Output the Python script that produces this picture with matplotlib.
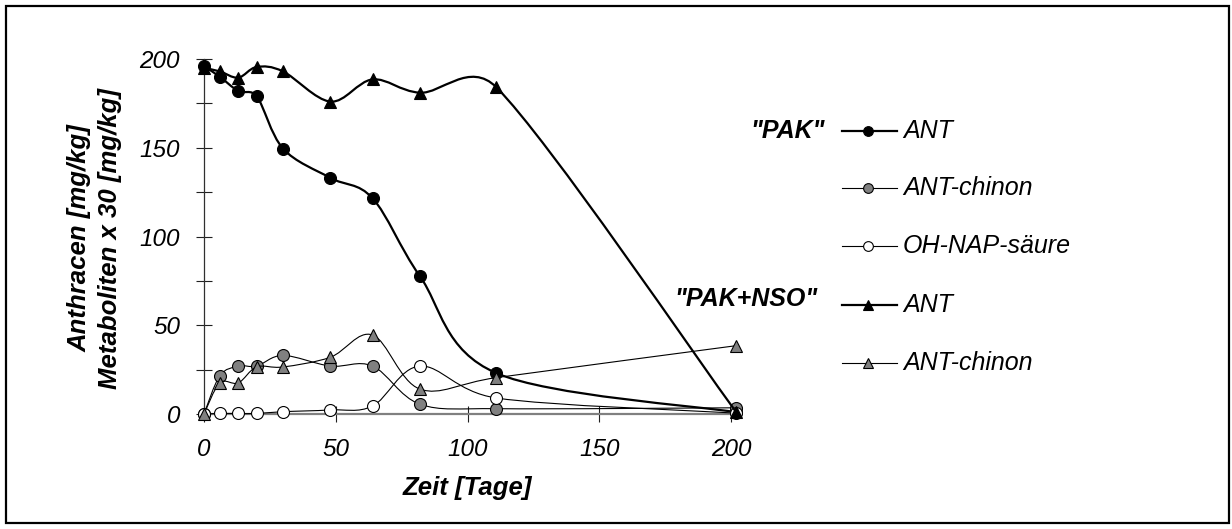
import numpy as np
import matplotlib
matplotlib.use("Agg")
import matplotlib.pyplot as plt
from matplotlib.path import Path
from matplotlib.patches import PathPatch, Rectangle
from matplotlib.lines import Line2D

plt.rcParams["font.family"] = ["Liberation Sans", "DejaVu Sans"]

# days of sampling
tage = [0, 6, 13, 20, 30, 48, 64, 82, 111, 202]

# "PAK"
pak_ant = [196, 190, 182, 179, 149.5, 133, 121.5, 77.5, 23, 1]
pak_chinon = [0, 21.5, 27, 27, 33, 27, 27, 5.5, 3, 3.5]
pak_ohnap = [0, 0.3, 0.3, 0.3, 1.3, 2.3, 4.5, 27, 9, 0.5]
# "PAK+NSO"
nso_ant = [195, 193, 189.5, 195.5, 193, 176, 188.5, 181, 184, 1]
nso_chinon = [0, 17.5, 17.5, 26.5, 26.5, 32, 44.5, 14, 20.5, 38.5]

gruppen = ['"PAK"', '"PAK+NSO"']
labels = ["ANT", "ANT-chinon", "OH-NAP-säure", "ANT", "ANT-chinon"]

W, H = 1232, 529
fig = plt.figure(figsize=(W / 100, H / 100), dpi=100)
ax = fig.add_axes([204 / W, 1 - 414 / H, 527 / W, 355 / H])
ax.set_xlim(0, 200)
ax.set_ylim(0, 200)


def smooth_path(x, y):
    # excel-like smoothed line, bezier control points computed in pixel space
    pts = ax.transData.transform(np.column_stack([x, y]))
    n = len(pts)
    verts = [pts[0]]
    codes = [Path.MOVETO]
    for i in range(n - 1):
        p0 = pts[i - 1] if i > 0 else pts[i]
        p1 = pts[i]
        p2 = pts[i + 1]
        p3 = pts[i + 2] if i + 2 < n else pts[i + 1]
        seg = np.linalg.norm(p2 - p1)
        t1 = (p2 - p0) / 6
        t2 = (p3 - p1) / 6
        l1 = np.linalg.norm(t1)
        l2 = np.linalg.norm(t2)
        if l1 > seg / 2 and l1 > 0:
            t1 = t1 * (seg / 2) / l1
        if l2 > seg / 2 and l2 > 0:
            t2 = t2 * (seg / 2) / l2
        verts += [p1 + t1, p2 - t2, p2]
        codes += [Path.CURVE4] * 3
    verts = ax.transData.inverted().transform(np.array(verts))
    return Path(verts, codes)


series = [
    (pak_ant, "o", "black", 1.6),
    (pak_chinon, "o", "#808080", 0.8),
    (pak_ohnap, "o", "white", 0.8),
    (nso_ant, "^", "black", 1.6),
    (nso_chinon, "^", "#808080", 0.8),
]

z = 3
for vals, m, fc, lw in series:
    ax.add_patch(PathPatch(smooth_path(tage, vals), fill=False, ec="black",
                           lw=lw, clip_on=False, zorder=z))
    ax.plot(tage, vals, ls="none", marker=m, ms=8.6, mfc=fc, mec="black",
            mew=0.8, clip_on=False, zorder=z + 0.5)
    z += 1

# axes styling
for s in ["top", "right"]:
    ax.spines[s].set_visible(False)
ax.spines["left"].set_color("#303030")
ax.spines["left"].set_linewidth(0.9)
ax.spines["bottom"].set_color("#808080")
ax.spines["bottom"].set_linewidth(1.6)
ax.spines["bottom"].set_zorder(2.5)

ax.set_xticks([0, 50, 100, 150, 200])
ax.set_yticks([0, 50, 100, 150, 200])
ax.set_yticks([25, 75, 125, 175], minor=True)
ax.tick_params(axis="both", which="both", direction="inout", length=11.5,
               width=0.8, color="#202020", pad=11.5, labelsize=17.5)
for t in ax.get_xticklabels() + ax.get_yticklabels():
    t.set_fontstyle("italic")

ax.set_xlabel("Zeit [Tage]", fontsize=18.5, fontweight="bold",
              fontstyle="italic", va="center")
ax.xaxis.set_label_coords(0.5, (414 - 488) / 355)
ax.set_ylabel("Anthracen [mg/kg]\nMetaboliten x 30 [mg/kg]", fontsize=18.5,
              fontweight="bold", fontstyle="italic", va="center",
              linespacing=1.35)
ax.yaxis.set_label_coords((95 - 204) / 527, (414 - 238) / 355)

# legend, drawn by hand in pixel positions
rows = [131, 188, 246, 305, 363]
legend_style = [
    ("o", "black", 1.6),
    ("o", "#808080", 0.8),
    ("o", "white", 0.8),
    ("^", "black", 1.6),
    ("^", "#808080", 0.8),
]
for ry, lab, (m, fc, lw) in zip(rows, labels, legend_style):
    yf = 1 - ry / H
    fig.add_artist(Line2D([842 / W, 897 / W], [yf, yf], color="black", lw=lw,
                          transform=fig.transFigure))
    fig.add_artist(Line2D([868 / W], [yf], ls="none", marker=m, ms=7,
                          mfc=fc, mec="black", mew=0.8,
                          transform=fig.transFigure))
    fig.text(903 / W, yf, lab, fontsize=18, fontstyle="italic",
             va="center", ha="left")

fig.text(825 / W, 1 - rows[0] / H, gruppen[0], fontsize=18, fontweight="bold",
         fontstyle="italic", ha="right", va="center")
fig.text(818 / W, 1 - 299 / H, gruppen[1], fontsize=18, fontweight="bold",
         fontstyle="italic", ha="right", va="center")

# outer frame
fig.add_artist(Rectangle((6 / W, 1 - 523 / H), 1223 / W, 517 / H, fill=False,
                         ec="black", lw=1.6, transform=fig.transFigure))

fig.savefig("out.png", dpi=100)
